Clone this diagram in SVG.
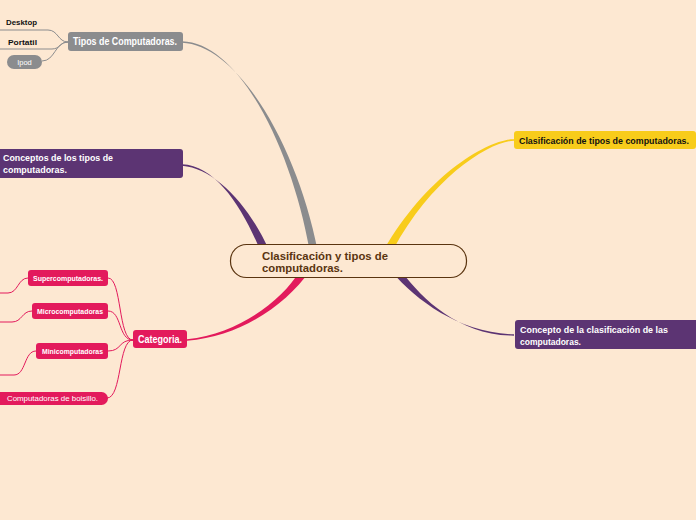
<svg xmlns="http://www.w3.org/2000/svg" width="696" height="520" viewBox="0 0 696 520">
<style>
text{font-family:"Liberation Sans",Arial,sans-serif;font-weight:bold}
.w{fill:#ffffff}
.k{fill:#111111}
.thin{fill:none;stroke-width:1}
.gray{fill:#8b8c8e}
.purple{fill:#5c3473}
.pink{fill:#e31a5c}
.yellow{fill:#f8cc1b}
</style>
<rect width="696" height="520" fill="#fde8d2"/>
<g id="connectors">
<path class="gray" d="M182,41.2 C240,42.5 292,150.5 309.5,250 L317.5,250 C298,149.5 240,45.5 182,42.8 Z"/>
<path class="purple" d="M182,164.3 C215,165.5 241.5,205.5 260,250 L269,250 C248.5,204.5 215,168.5 182,165.7 Z"/>
<path class="yellow" d="M514,139.3 C490,138.5 427.5,173.5 384,250 L393,250 C432.5,176.5 490,141.5 514,140.7 Z"/>
<path class="purple" d="M392,272 C417,301 460,333 514,334.3 L514,335.7 C460,335.5 423,300 402,272 Z"/>
<path class="pink" d="M299,272 C282.5,299.5 240,333.5 187,339.3 L187,340.7 C242,337 287.5,302.5 309,272 Z"/>
<g class="thin" stroke="#8b8c8e">
<path d="M0,30 L48,30 C58,30 58,42 68,42"/>
<path d="M0,49 L52,49 C60,49 60,42 68,42"/>
<path d="M42,61 C55,61 55,42 68,42"/>
</g>
<g class="thin" stroke="#e31a5c">
<path d="M108,278 C122,278 118,340 133,340"/>
<path d="M108,311 C122,311 118,340 133,340"/>
<path d="M108,351 C122,351 118,340 133,340"/>
<path d="M107,398 C122,398 118,340 133,340"/>
<path d="M28,278 C18,278 18,293 8,293 L0,293"/>
<path d="M32,311 C22,311 22,322 12,322 L0,322"/>
<path d="M36,351 C24,351 26,375 14,375 L0,375"/>
</g>
</g>
<g id="center">
<rect x="230.5" y="244.5" width="236" height="33" rx="16" fill="#fde8d2" stroke="#5a3410" stroke-width="1.2"/>
<text x="262" y="260" font-size="11.5" fill="#5a3410" textLength="126" lengthAdjust="spacingAndGlyphs">Clasificación y tipos de</text>
<text x="262" y="271.5" font-size="11.5" fill="#5a3410" textLength="81" lengthAdjust="spacingAndGlyphs">computadoras.</text>
</g>
<g id="tipos">
<rect x="68" y="32" width="115" height="19" rx="3" class="gray"/>
<text x="73" y="45" font-size="10.5" class="w" textLength="104" lengthAdjust="spacingAndGlyphs">Tipos de Computadoras.</text>
</g>
<g id="desktop">
<text x="6" y="25" font-size="8" class="k" textLength="31" lengthAdjust="spacingAndGlyphs">Desktop</text>
</g>
<g id="portatil">
<text x="8" y="45" font-size="8" class="k" textLength="29" lengthAdjust="spacingAndGlyphs">Portatil</text>
</g>
<g id="ipod">
<rect x="7" y="55" width="35" height="14" rx="7" class="gray"/>
<text x="24.5" y="64.5" font-size="7.5" class="w" text-anchor="middle" style="font-weight:normal">Ipod</text>
</g>
<g id="conceptos">
<rect x="-3" y="149" width="186" height="29" rx="3" class="purple"/>
<text x="3" y="161" font-size="9.5" class="w" textLength="110" lengthAdjust="spacingAndGlyphs">Conceptos de los tipos de</text>
<text x="3" y="173" font-size="9.5" class="w" textLength="64" lengthAdjust="spacingAndGlyphs">computadoras.</text>
</g>
<g id="categoria">
<rect x="133" y="330" width="54" height="18" rx="3" class="pink"/>
<text x="138" y="343" font-size="10" class="w" textLength="44" lengthAdjust="spacingAndGlyphs">Categoria.</text>
</g>
<g id="super">
<rect x="28" y="270" width="80" height="16" rx="3" class="pink"/>
<text x="33" y="281" font-size="7.5" class="w" textLength="70" lengthAdjust="spacingAndGlyphs">Supercomputadoras.</text>
</g>
<g id="micro">
<rect x="32" y="303" width="76" height="16" rx="3" class="pink"/>
<text x="37" y="314" font-size="7.5" class="w" textLength="66" lengthAdjust="spacingAndGlyphs">Microcomputadoras</text>
</g>
<g id="mini">
<rect x="36" y="343" width="72" height="16" rx="3" class="pink"/>
<text x="42" y="354" font-size="7.5" class="w" textLength="61" lengthAdjust="spacingAndGlyphs">Minicomputadoras</text>
</g>
<g id="bolsillo">
<rect x="-6" y="392" width="114" height="13" rx="6.5" class="pink"/>
<text x="7" y="401" font-size="7.5" class="w" style="font-weight:normal" textLength="91" lengthAdjust="spacingAndGlyphs">Computadoras de boisillo.</text>
</g>
<g id="clasificacion">
<rect x="514" y="131" width="182" height="18" rx="3" class="yellow"/>
<text x="519" y="143.5" font-size="8.7" class="k" textLength="170" lengthAdjust="spacingAndGlyphs">Clasificación de tipos de computadoras.</text>
</g>
<g id="concepto">
<rect x="515" y="320" width="186" height="29" rx="3" class="purple"/>
<text x="520" y="333" font-size="9.5" class="w" textLength="148" lengthAdjust="spacingAndGlyphs">Concepto de la clasificación de las</text>
<text x="520" y="344.5" font-size="9.5" class="w" textLength="61" lengthAdjust="spacingAndGlyphs">computadoras.</text>
</g>
</svg>
